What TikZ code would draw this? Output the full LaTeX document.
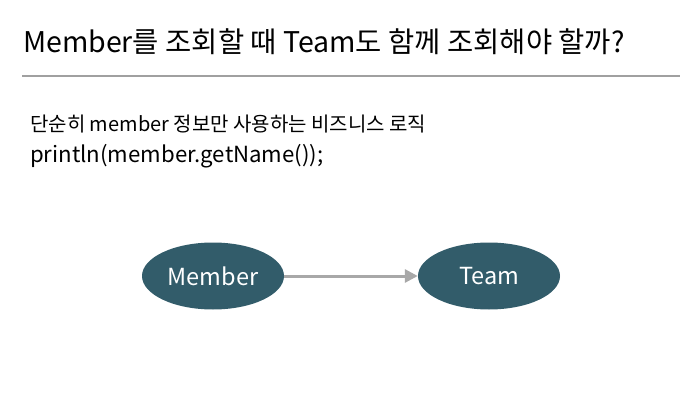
\documentclass[tikz,border=0pt]{standalone}
\usepackage{fontspec}
\setmainfont{Noto Sans CJK KR}
\usetikzlibrary{positioning,shapes.geometric,arrows.meta}

\definecolor{entityfill}{RGB}{50,92,106}
\definecolor{linkgray}{RGB}{168,168,168}
\definecolor{rulegray}{RGB}{160,160,160}

\begin{document}
\begin{tikzpicture}[x=1pt, y=-1pt,
    % Text lines
    heading/.style={anchor=west, inner sep=0pt, font=\fontsize{28.5}{32}\selectfont, text=black},
    note/.style={anchor=west, inner sep=0pt, font=\fontsize{20}{24}\selectfont, text=black},
    code/.style={anchor=west, inner sep=0pt, font=\fontsize{22.2}{26}\selectfont, text=black},
    % Entities
    entity/.style={ellipse, fill=entityfill, draw=none, minimum width=142pt,
                   minimum height=67pt, inner sep=0pt, text=white,
                   font=\fontsize{23.5}{28}\selectfont},
    % Arrows
    link/.style={-{Triangle[length=13pt,width=13pt]}, line width=3pt, linkgray}
]

% Canvas
\useasboundingbox (0,0) rectangle (691,417);

% Title and divider
\node[heading] (title) at (23,42) {Member를 조회할 때 Team도 함께 조회해야 할까?};
\coordinate (ruleL) at (22,76);
\coordinate (ruleR) at (680,76);
\draw[rulegray, line width=1.5pt] (ruleL) -- (ruleR);

% Description
\node[note] (desc) at (30,124) {단순히 member 정보만 사용하는 비즈니스 로직};
\node[code] (call) at (30,156) {println(member.getName());};

% Entities
\node[entity] (member) at (213,276) {Member};
\node[entity] (team) at (489,276) {Team};

% Reference
\draw[link] (member) -- (team);

\end{tikzpicture}
\end{document}
